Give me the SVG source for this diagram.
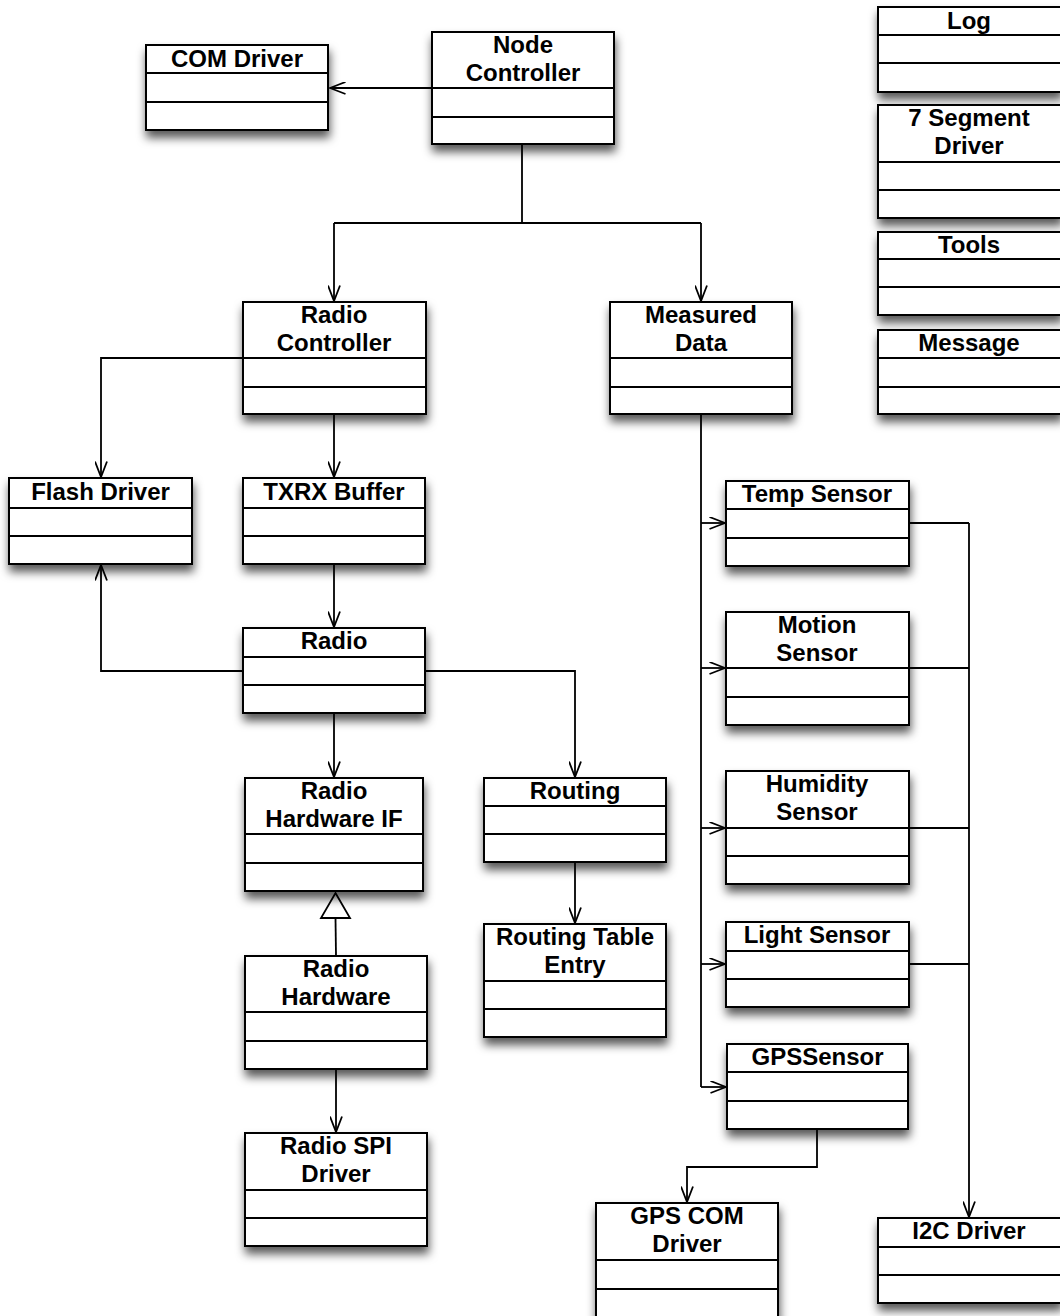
<svg xmlns="http://www.w3.org/2000/svg" width="1060" height="1316" viewBox="0 0 1060 1316">
  <style>
    .box { fill: #ffffff; stroke: #000000; stroke-width: 2; filter: url(#shadow); }
    .sep { stroke: #000000; stroke-width: 2; }
    .title { font-family: "Liberation Sans", Arial, Helvetica, sans-serif; font-weight: bold; font-size: 24px; fill: #000000; text-anchor: middle; }
    .conn { fill: none; stroke: #000000; stroke-width: 1.8; }
    .dep { marker-end: url(#open); }
  </style>
  <defs>
    <filter id="shadow" x="-20%" y="-20%" width="140%" height="160%">
      <feDropShadow dx="1" dy="7" stdDeviation="5" flood-color="#000000" flood-opacity="0.65"/>
    </filter>
    <marker id="open" viewBox="0 0 17 13" refX="16" refY="6.5" markerWidth="17" markerHeight="13" markerUnits="userSpaceOnUse" orient="auto">
      <path d="M0.5,0.5 L16,6.5 L0.5,12.5" fill="none" stroke="#000000" stroke-width="1.8"/>
    </marker>
  </defs>

  <rect width="1060" height="1316" fill="#ffffff"/>

  <!-- connectors -->
  <g id="connectors">
    <path class="conn dep" d="M432,88 H330"/>
    <path class="conn" d="M522,144 V223 M334,223 H701"/>
    <path class="conn dep" d="M334,223 V301"/>
    <path class="conn dep" d="M701,223 V301"/>
    <path class="conn dep" d="M243,358 H101 V477"/>
    <path class="conn dep" d="M334,414 V477"/>
    <path class="conn dep" d="M334,564 V627"/>
    <path class="conn dep" d="M243,671 H101 V565"/>
    <path class="conn dep" d="M334,713 V777"/>
    <path class="conn dep" d="M425,671 H575 V777"/>
    <path class="conn dep" d="M575,862 V923"/>
    <path class="conn" d="M336,956 L335.5,918"/>
    <path d="M335.5,893 L350,918 L321,918 Z" fill="#ffffff" stroke="#000000" stroke-width="1.8"/>
    <path class="conn dep" d="M336,1069 V1132"/>
    <path class="conn" d="M701,414 V1087"/>
    <path class="conn dep" d="M701,523 H725"/>
    <path class="conn dep" d="M701,668 H725"/>
    <path class="conn dep" d="M701,828 H725"/>
    <path class="conn dep" d="M701,964 H725"/>
    <path class="conn dep" d="M701,1087 H726"/>
    <path class="conn" d="M909,523 H969 M909,668 H969 M909,828 H969 M909,964 H969"/>
    <path class="conn dep" d="M969,523 V1217"/>
    <path class="conn dep" d="M817,1129 V1167 H687 V1202"/>
  </g>

  <!-- classes -->
  <g id="com-driver">
    <rect class="box" x="146" y="45" width="182" height="85"/>
    <path class="sep" d="M146,73 H328 M146,102 H328"/>
    <text class="title" x="237" y="67">COM Driver</text>
  </g>
  <g id="node-controller">
    <rect class="box" x="432" y="32" width="182" height="112"/>
    <path class="sep" d="M432,88 H614 M432,117 H614"/>
    <text class="title" x="523" y="53">Node</text>
    <text class="title" x="523" y="81">Controller</text>
  </g>
  <g id="log">
    <rect class="box" x="878" y="7" width="183" height="85"/>
    <path class="sep" d="M878,35 H1061 M878,63 H1061"/>
    <text class="title" x="969" y="29">Log</text>
  </g>
  <g id="seven-segment-driver">
    <rect class="box" x="878" y="105" width="183" height="113"/>
    <path class="sep" d="M878,162 H1061 M878,190 H1061"/>
    <text class="title" x="969" y="126">7 Segment</text>
    <text class="title" x="969" y="154">Driver</text>
  </g>
  <g id="tools">
    <rect class="box" x="878" y="232" width="183" height="83"/>
    <path class="sep" d="M878,259 H1061 M878,287 H1061"/>
    <text class="title" x="969" y="253">Tools</text>
  </g>
  <g id="message">
    <rect class="box" x="878" y="330" width="183" height="84"/>
    <path class="sep" d="M878,358 H1061 M878,387 H1061"/>
    <text class="title" x="969" y="351">Message</text>
  </g>
  <g id="radio-controller">
    <rect class="box" x="243" y="302" width="183" height="112"/>
    <path class="sep" d="M243,358 H426 M243,387 H426"/>
    <text class="title" x="334" y="323">Radio</text>
    <text class="title" x="334" y="351">Controller</text>
  </g>
  <g id="measured-data">
    <rect class="box" x="610" y="302" width="182" height="112"/>
    <path class="sep" d="M610,358 H792 M610,387 H792"/>
    <text class="title" x="701" y="323">Measured</text>
    <text class="title" x="701" y="351">Data</text>
  </g>
  <g id="flash-driver">
    <rect class="box" x="9" y="478" width="183" height="86"/>
    <path class="sep" d="M9,508 H192 M9,536 H192"/>
    <text class="title" x="100.5" y="500">Flash Driver</text>
  </g>
  <g id="txrx-buffer">
    <rect class="box" x="243" y="478" width="182" height="86"/>
    <path class="sep" d="M243,508 H425 M243,536 H425"/>
    <text class="title" x="334" y="500">TXRX Buffer</text>
  </g>
  <g id="radio">
    <rect class="box" x="243" y="628" width="182" height="85"/>
    <path class="sep" d="M243,657 H425 M243,685 H425"/>
    <text class="title" x="334" y="649">Radio</text>
  </g>
  <g id="radio-hardware-if">
    <rect class="box" x="245" y="778" width="178" height="113"/>
    <path class="sep" d="M245,834 H423 M245,863 H423"/>
    <text class="title" x="334" y="799">Radio</text>
    <text class="title" x="334" y="827">Hardware IF</text>
  </g>
  <g id="routing">
    <rect class="box" x="484" y="778" width="182" height="84"/>
    <path class="sep" d="M484,806 H666 M484,834 H666"/>
    <text class="title" x="575" y="799">Routing</text>
  </g>
  <g id="radio-hardware">
    <rect class="box" x="245" y="956" width="182" height="113"/>
    <path class="sep" d="M245,1012 H427 M245,1041 H427"/>
    <text class="title" x="336" y="977">Radio</text>
    <text class="title" x="336" y="1005">Hardware</text>
  </g>
  <g id="routing-table-entry">
    <rect class="box" x="484" y="924" width="182" height="113"/>
    <path class="sep" d="M484,981 H666 M484,1009 H666"/>
    <text class="title" x="575" y="945">Routing Table</text>
    <text class="title" x="575" y="973">Entry</text>
  </g>
  <g id="radio-spi-driver">
    <rect class="box" x="245" y="1133" width="182" height="113"/>
    <path class="sep" d="M245,1190 H427 M245,1218 H427"/>
    <text class="title" x="336" y="1154">Radio SPI</text>
    <text class="title" x="336" y="1182">Driver</text>
  </g>
  <g id="temp-sensor">
    <rect class="box" x="726" y="481" width="183" height="85"/>
    <path class="sep" d="M726,509 H909 M726,538 H909"/>
    <text class="title" x="817" y="502">Temp Sensor</text>
  </g>
  <g id="motion-sensor">
    <rect class="box" x="726" y="612" width="183" height="113"/>
    <path class="sep" d="M726,668 H909 M726,697 H909"/>
    <text class="title" x="817" y="633">Motion</text>
    <text class="title" x="817" y="661">Sensor</text>
  </g>
  <g id="humidity-sensor">
    <rect class="box" x="726" y="771" width="183" height="113"/>
    <path class="sep" d="M726,828 H909 M726,856 H909"/>
    <text class="title" x="817" y="792">Humidity</text>
    <text class="title" x="817" y="820">Sensor</text>
  </g>
  <g id="light-sensor">
    <rect class="box" x="726" y="922" width="183" height="85"/>
    <path class="sep" d="M726,951 H909 M726,979 H909"/>
    <text class="title" x="817" y="943">Light Sensor</text>
  </g>
  <g id="gps-sensor">
    <rect class="box" x="727" y="1044" width="181" height="85"/>
    <path class="sep" d="M727,1072 H908 M727,1101 H908"/>
    <text class="title" x="817.5" y="1065">GPSSensor</text>
  </g>
  <g id="gps-com-driver">
    <rect class="box" x="596" y="1203" width="182" height="116"/>
    <path class="sep" d="M596,1260 H778 M596,1289 H778"/>
    <text class="title" x="687" y="1224">GPS COM</text>
    <text class="title" x="687" y="1252">Driver</text>
  </g>
  <g id="i2c-driver">
    <rect class="box" x="878" y="1218" width="183" height="85"/>
    <path class="sep" d="M878,1247 H1061 M878,1275 H1061"/>
    <text class="title" x="969" y="1239">I2C Driver</text>
  </g>
</svg>
